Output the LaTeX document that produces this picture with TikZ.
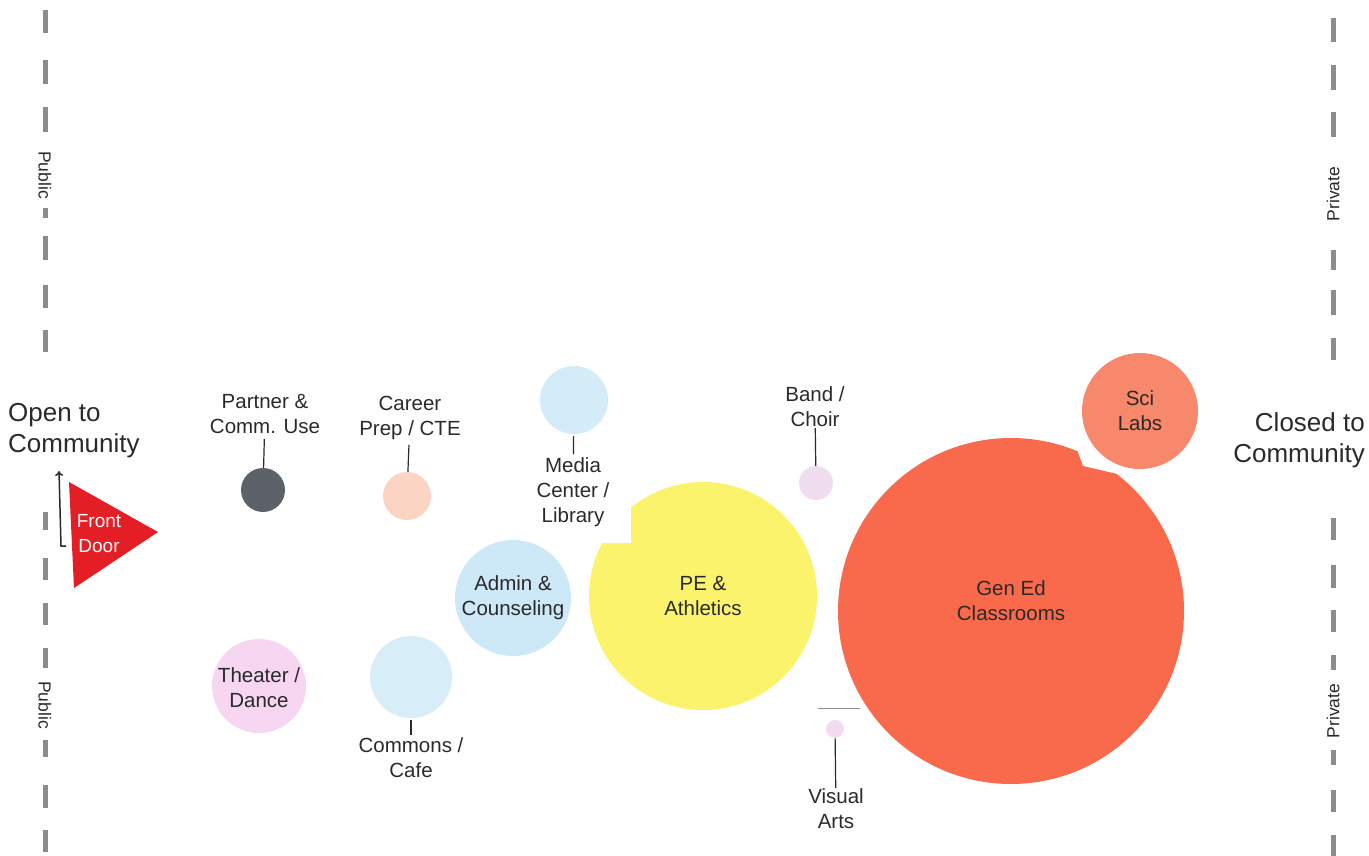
\documentclass[tikz,border=0pt]{standalone}
\usepackage{fontspec}
\setmainfont{Liberation Sans}
\usetikzlibrary{arrows.meta}

\definecolor{inkc}{HTML}{2A2A2A}
\definecolor{fencec}{HTML}{8C8C8C}
\definecolor{doorc}{HTML}{E31E25}
\definecolor{partnerc}{HTML}{5C6267}
\definecolor{careerc}{HTML}{FCD4C4}
\definecolor{mediac}{HTML}{D4ECF7}
\definecolor{adminc}{HTML}{CDE8F6}
\definecolor{commonsc}{HTML}{D7EEF8}
\definecolor{theaterc}{HTML}{F6D6F0}
\definecolor{pec}{HTML}{FBF36C}
\definecolor{bandc}{HTML}{F0DDF0}
\definecolor{visualc}{HTML}{F4DCF0}
\definecolor{genedc}{HTML}{F96A4D}
\definecolor{scic}{HTML}{F7886B}

\begin{document}
\begin{tikzpicture}[x=1pt,y=-1pt,
  room/.style={circle,inner sep=0pt,draw=none},
  lbl/.style={align=center,text=inkc,inner sep=1pt,font=\fontsize{20.5}{25}\selectfont},
  side/.style={align=left,text=inkc,inner sep=0pt,font=\fontsize{26}{31}\selectfont},
  zone/.style={text=inkc,inner sep=0pt,font=\fontsize{17.5}{19}\selectfont},
  lead/.style={draw=inkc,line width=1.2pt},
  fence/.style={draw=fencec,line width=5pt}]
  \useasboundingbox (0,0) rectangle (1369,856);

  \foreach \a/\b in {10/33,60/84,107/132,208/218,236/260,285/308,330/352,
                     512/530,558/580,603/625,648/668,740/757,785/808,830/852}
    \draw[fence] (45,\a) -- (45,\b);
  \foreach \a/\b in {18/42,65/90,112/137,250/270,290/315,338/360,
                     518/540,565/588,610/632,655/670,750/765,790/812,835/856}
    \draw[fence] (1333,\a) -- (1333,\b);
  \node[zone,rotate=-90] (pubtop) at (45,175) {Public};
  \node[zone,rotate=-90] (pubbot) at (45,705) {Public};
  \node[zone,rotate=90] (privtop) at (1333,194) {Private};
  \node[zone,rotate=90] (privbot) at (1333,711) {Private};

  \node[side,anchor=west] (open) at (8,431) {Open to\\Community};
  \node[side,anchor=east,align=right] (closed) at (1365,440) {Closed to\\Community};

  \coordinate (d1) at (69,482);
  \coordinate (d2) at (158,532);
  \coordinate (d3) at (74,588);
  \fill[doorc] (d1) -- (d2) -- (d3) -- cycle;
  \node[lbl,text=white,font=\fontsize{19}{25}\selectfont] (door) at (99,534) {Front\\Door};
  \coordinate (h1) at (66,546);
  \coordinate (h2) at (61,546);
  \coordinate (h3) at (59,471);
  \draw[inkc,line width=1.5pt,-{To[length=5pt,width=8pt]}] (h1) -- (h2) -- (h3);

  \node[room,fill=partnerc,minimum size=44] (partner) at (263,490) {};
  \node[room,fill=careerc,minimum size=48] (career) at (407,496) {};
  \node[room,fill=mediac,minimum size=68] (media) at (574,400) {};
  \node[room,fill=adminc,minimum size=116] (admin) at (513,598) {};
  \node[room,fill=theaterc,minimum size=94] (theater) at (259,686) {};
  \node[room,fill=commonsc,minimum size=82] (commons) at (411,677) {};
  \node[room,fill=bandc,minimum size=34] (band) at (816,483) {};
  \node[room,fill=visualc,minimum size=18] (visual) at (835,729) {};
  \begin{scope}
    \clip (570,543) -- (631,543) -- (631,470) -- (830,470) -- (830,720) -- (570,720) -- cycle;
    \node[room,fill=pec,minimum size=228] (pe) at (703,596) {};
  \end{scope}
  \begin{scope}
    \clip (820,420) -- (1066,420) -- (1083,466) -- (1130,477) -- (1200,477) -- (1200,800) -- (820,800) -- cycle;
    \node[room,fill=genedc,minimum size=346] (gened) at (1011,611) {};
  \end{scope}
  \node[room,fill=scic,minimum size=116] (sci) at (1140,411) {};

  \node[lbl] (partnerlbl) at (265,414) {Partner \&\\Comm. Use};
  \node[lbl] (careerlbl) at (410,418) {Career\\Prep / CTE};
  \node[lbl] (medialbl) at (573,492) {Media\\Center /\\Library};
  \node[lbl] (bandlbl) at (815,407) {Band /\\Choir};
  \node[lbl] (commonslbl) at (411,758) {Commons /\\Cafe};
  \node[lbl] (visuallbl) at (836,809) {Visual\\Arts};
  \node[lbl] at ([yshift=-2]theater) {Theater /\\Dance};
  \node[lbl] at (admin) {Admin \&\\Counseling};
  \node[lbl] at (pe) {PE \&\\Athletics};
  \node[lbl] at ([yshift=10]gened) {Gen Ed\\Classrooms};
  \node[lbl] at (sci) {Sci\\Labs};

  \draw[lead,shorten <=4pt] (partnerlbl) -- (partner);
  \draw[lead,shorten <=4pt] (careerlbl) -- (career);
  \draw[lead,shorten <=2pt,shorten >=2pt] (media) -- (medialbl);
  \draw[lead] (bandlbl) -- (band);
  \draw[lead,shorten <=2pt,shorten >=2pt] (commons) -- (commonslbl);
  \draw[lead] (visual) -- (visuallbl);
  \coordinate (v1) at (818,708);
  \coordinate (v2) at (860,708);
  \draw[fencec,line width=0.8pt] (v1) -- (v2);
\end{tikzpicture}
\end{document}
